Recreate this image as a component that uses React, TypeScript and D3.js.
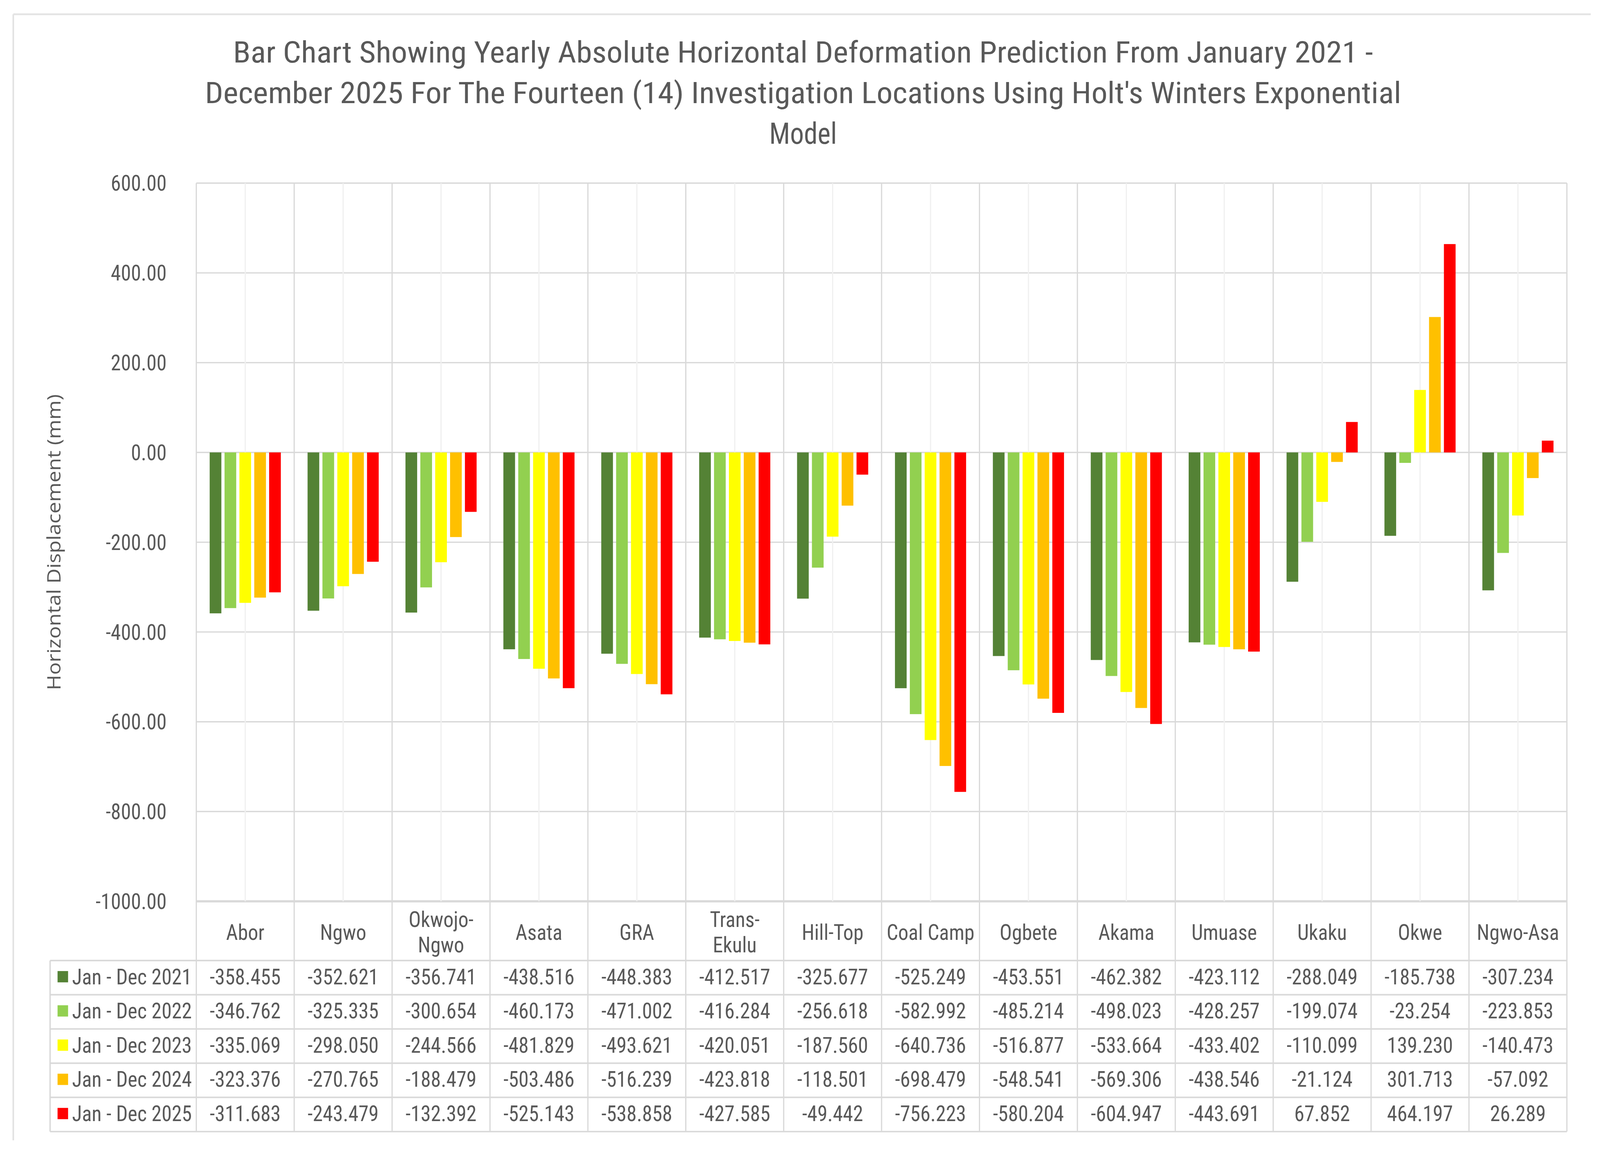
import React, { useEffect } from "react";
import * as d3 from "d3";

const categories = ["Abor", "Ngwo", "Okwojo-Ngwo", "Asata", "GRA", "Trans-Ekulu", "Hill-Top", "Coal Camp", "Ogbete", "Akama", "Umuase", "Ukaku", "Okwe", "Ngwo-Asa"];
const categoryLabelLines = [["Abor"], ["Ngwo"], ["Okwojo-", "Ngwo"], ["Asata"], ["GRA"], ["Trans-", "Ekulu"], ["Hill-Top"], ["Coal Camp"], ["Ogbete"], ["Akama"], ["Umuase"], ["Ukaku"], ["Okwe"], ["Ngwo-Asa"]];

const seriesNames = ["Jan - Dec 2021", "Jan - Dec 2022", "Jan - Dec 2023", "Jan - Dec 2024", "Jan - Dec 2025"];
const seriesColors = ["#548235", "#92D050", "#FFFF00", "#FFC000", "#FF0000"];

const values2021 = [-358.455, -352.621, -356.741, -438.516, -448.383, -412.517, -325.677, -525.249, -453.551, -462.382, -423.112, -288.049, -185.738, -307.234];
const values2022 = [-346.762, -325.335, -300.654, -460.173, -471.002, -416.284, -256.618, -582.992, -485.214, -498.023, -428.257, -199.074, -23.254, -223.853];
const values2023 = [-335.069, -298.05, -244.566, -481.829, -493.621, -420.051, -187.56, -640.736, -516.877, -533.664, -433.402, -110.099, 139.23, -140.473];
const values2024 = [-323.376, -270.765, -188.479, -503.486, -516.239, -423.818, -118.501, -698.479, -548.541, -569.306, -438.546, -21.124, 301.713, -57.092];
const values2025 = [-311.683, -243.479, -132.392, -525.143, -538.858, -427.585, -49.442, -756.223, -580.204, -604.947, -443.691, 67.852, 464.197, 26.289];

const yTicks = [600, 400, 200, 0, -200, -400, -600, -800, -1000];

const titleLines = [
  "Bar Chart Showing Yearly Absolute Horizontal Deformation Prediction From January 2021 -",
  "December 2025 For The Fourteen (14) Investigation Locations Using Holt's Winters Exponential",
  "Model",
];
const yAxisTitle = "Horizontal Displacement (mm)";

const FONT = "'Liberation Sans Narrow', 'Arial Narrow', 'Roboto Condensed', Roboto, 'Liberation Sans', sans-serif";
const TEXT = "#595959";
const GRID = "#d9d9d9";

export default function App() {
  useEffect(() => {
    document.body.style.margin = "0";
    document.body.style.overflow = "hidden";
    document.documentElement.style.overflow = "hidden";
  }, []);

  const W = 1565;
  const H = 1048.8;
  const plotLeft = 192;
  const plotRight = 1532.6;
  const plotTop = 167;
  const plotBottom = 822;
  const catRowBottom = 876;
  const rowH = 31.2;
  const legendLeft = 49;
  const tableBottom = catRowBottom + rowH * seriesNames.length;

  const allSeries = [values2021, values2022, values2023, values2024, values2025];

  const y = d3.scaleLinear().domain([-1000, 600]).range([plotBottom, plotTop]);
  const x0 = d3.scaleBand<string>().domain(categories).range([plotLeft, plotRight]).padding(0);
  const x1 = d3
    .scaleBand<string>()
    .domain(seriesNames)
    .range([0, x0.bandwidth()])
    .paddingInner(0.214)
    .paddingOuter(0.9);
  const fmtTick = d3.format(".2f");
  const fmtVal = d3.format(".3f");
  const fmtSigned = (v: number) => fmtVal(v).replace("−", "-");

  const bw = x0.bandwidth();

  return (
    <svg
      viewBox={`0 0 ${W} ${H}`}
      preserveAspectRatio="none"
      style={{ position: "fixed", left: 0, top: 0, width: "100vw", height: "100vh", background: "#fff", display: "block" }}
    >
      <rect x={0} y={0} width={W} height={H} fill="#fff" />
      {/* outer chart border */}
      <line x1={13} y1={13} x2={1556} y2={13} stroke="#e3e3e3" strokeWidth={1.6} />
      <line x1={13} y1={13} x2={13} y2={1040} stroke="#e3e3e3" strokeWidth={1.6} />

      {/* title */}
      {titleLines.map((t, i) => (
        <text
          key={i}
          x={785.5}
          y={57 + i * 37}
          textAnchor="middle"
          fontFamily={FONT}
          fontSize={27}
          fill={TEXT}
          {...(i < 2 ? { textLength: i === 0 ? 1115 : 1170, lengthAdjust: "spacingAndGlyphs" } : {})}
        >
          {t}
        </text>
      ))}

      {/* horizontal gridlines */}
      {yTicks.map((t) => (
        <line
          key={"g" + t}
          x1={plotLeft}
          x2={plotRight}
          y1={y(t)}
          y2={y(t)}
          stroke={GRID}
          strokeWidth={t === -1000 ? 2 : 1.2}
        />
      ))}

      {/* center vertical lines (light) */}
      {categories.map((c) => (
        <line
          key={"c" + c}
          x1={(x0(c) as number) + bw / 2}
          x2={(x0(c) as number) + bw / 2}
          y1={plotTop}
          y2={plotBottom}
          stroke="#f0f0f0"
          strokeWidth={1.2}
        />
      ))}

      {/* category boundary lines */}
      {categories.map((c) => (
        <line
          key={"b" + c}
          x1={x0(c) as number}
          x2={x0(c) as number}
          y1={plotTop}
          y2={tableBottom}
          stroke={GRID}
          strokeWidth={1.2}
        />
      ))}
      <line x1={plotRight} x2={plotRight} y1={plotTop} y2={tableBottom} stroke={GRID} strokeWidth={1.2} />

      {/* bars */}
      {categories.map((c, ci) =>
        seriesNames.map((s, si) => {
          const v = allSeries[si][ci];
          const y0 = y(0);
          const yv = y(v);
          return (
            <rect
              key={c + s}
              x={(x0(c) as number) + (x1(s) as number)}
              y={Math.min(y0, yv)}
              width={x1.bandwidth()}
              height={Math.abs(yv - y0)}
              fill={seriesColors[si]}
            />
          );
        })
      )}

      {/* y tick labels */}
      {yTicks.map((t) => (
        <text
          key={"t" + t}
          x={163}
          y={y(t)}
          dy="0.35em"
          textAnchor="end"
          fontFamily={FONT}
          fontSize={20}
          fill={TEXT}
        >
          {fmtTick(t).replace("−", "-")}
        </text>
      ))}

      {/* y axis title */}
      <text
        transform={`translate(53, ${(plotTop + plotBottom) / 2}) rotate(-90)`}
        textAnchor="middle"
        dy="0.35em"
        fontFamily="'Open Sans', 'DejaVu Sans', sans-serif"
        fontSize={18}
        fill={TEXT}
        textLength={270}
        lengthAdjust="spacingAndGlyphs"
      >
        {yAxisTitle}
      </text>

      {/* data table lines */}
      <line x1={legendLeft} x2={plotRight} y1={catRowBottom} y2={catRowBottom} stroke={GRID} strokeWidth={1.4} />
      {seriesNames.map((s, i) => (
        <line
          key={"r" + s}
          x1={legendLeft}
          x2={plotRight}
          y1={catRowBottom + rowH * (i + 1)}
          y2={catRowBottom + rowH * (i + 1)}
          stroke={GRID}
          strokeWidth={1.4}
        />
      ))}
      <line x1={legendLeft} x2={legendLeft} y1={catRowBottom} y2={tableBottom} stroke={GRID} strokeWidth={1.4} />

      {/* category labels */}
      {categoryLabelLines.map((lines, ci) => {
        const cx = (x0(categories[ci]) as number) + bw / 2;
        const cy = (plotBottom + catRowBottom) / 2 + 1;
        const lh = 23;
        return lines.map((ln, li) => (
          <text
            key={"cl" + ci + li}
            x={cx}
            y={cy + (li - (lines.length - 1) / 2) * lh}
            dy="0.35em"
            textAnchor="middle"
            fontFamily={FONT}
            fontSize={20}
            fill={TEXT}
          >
            {ln}
          </text>
        ));
      })}

      {/* legend column */}
      {seriesNames.map((s, si) => {
        const cy = catRowBottom + rowH * si + rowH / 2 - 1;
        return (
          <g key={"lg" + s}>
            <rect x={56.3} y={cy - 5} width={10.3} height={10.3} fill={seriesColors[si]} />
            <text x={70.5} y={cy} dy="0.35em" fontFamily={FONT} fontSize={20} fill={TEXT}>
              {s}
            </text>
          </g>
        );
      })}

      {/* table values */}
      {seriesNames.map((s, si) =>
        categories.map((c, ci) => (
          <text
            key={"v" + s + c}
            x={(x0(c) as number) + bw / 2}
            y={catRowBottom + rowH * si + rowH / 2 - 1}
            dy="0.35em"
            textAnchor="middle"
            fontFamily={FONT}
            fontSize={20}
            fill={TEXT}
          >
            {fmtSigned(allSeries[si][ci])}
          </text>
        ))
      )}
    </svg>
  );
}
